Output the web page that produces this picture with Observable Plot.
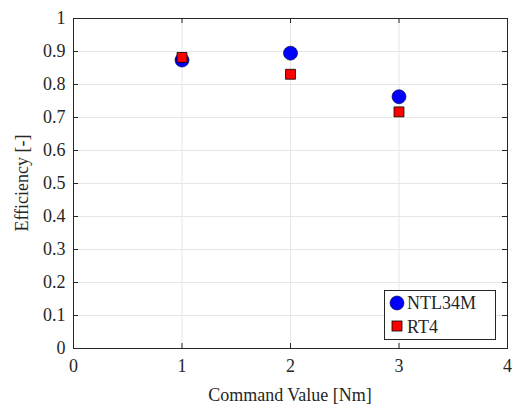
<!DOCTYPE html>
<html>
<head>
<meta charset="utf-8">
<script src="https://cdn.jsdelivr.net/npm/d3@7"></script>
<script src="https://cdn.jsdelivr.net/npm/@observablehq/plot@0.6"></script>
<style>
  html, body { margin: 0; padding: 0; background: #fff; }
  #chart { width: 519px; height: 408px; }
</style>
</head>
<body>
<div id="chart"></div>
<script>
const commandValues = [1, 2, 3];
const ntl34m = [0.874, 0.895, 0.763];
const rt4 = [0.882, 0.831, 0.717];
const seriesNames = ["NTL34M", "RT4"];
const xTicks = [0, 1, 2, 3, 4];
const yTicks = [0, 0.1, 0.2, 0.3, 0.4, 0.5, 0.6, 0.7, 0.8, 0.9, 1];

const dataN = commandValues.map((x, i) => ({x, y: ntl34m[i]}));
const dataR = commandValues.map((x, i) => ({x, y: rt4[i]}));

const font = "Liberation Serif";
const tickLenY = 5 / 330;   // inward tick length in y data units
const tickLenX = 5 / 108.5; // inward tick length in x data units

const plot = Plot.plot({
  width: 519,
  height: 408,
  marginLeft: 73,
  marginRight: 12,
  marginTop: 18,
  marginBottom: 60,
  x: {domain: [0, 4], ticks: xTicks, label: null},
  y: {domain: [0, 1], ticks: yTicks, label: null},
  marks: [
    Plot.gridX(xTicks, {stroke: "#e6e6e6", strokeOpacity: 1}),
    Plot.gridY(yTicks, {stroke: "#e6e6e6", strokeOpacity: 1}),
    Plot.axisX(xTicks, {tickSize: 0, tickPadding: 11, fontSize: 18, fontFamily: font, fill: "#262626"}),
    Plot.axisY(yTicks, {tickSize: 0, tickPadding: 8, fontSize: 18, fontFamily: font, fill: "#262626", tickFormat: d => String(+d.toFixed(1))}),
    Plot.ruleX(xTicks, {x: d => d, y1: 0, y2: tickLenY, stroke: "#262626"}),
    Plot.ruleX(xTicks, {x: d => d, y1: 1 - tickLenY, y2: 1, stroke: "#262626"}),
    Plot.ruleY(yTicks, {y: d => d, x1: 0, x2: tickLenX, stroke: "#262626"}),
    Plot.ruleY(yTicks, {y: d => d, x1: 4 - tickLenX, x2: 4, stroke: "#262626"}),
    Plot.frame({stroke: "#262626", strokeWidth: 1}),
    Plot.dot(dataN, {x: "x", y: "y", r: 7, fill: "#0000ff", stroke: "#000033", strokeWidth: 0.6, symbol: "circle"}),
    Plot.dot(dataR, {x: "x", y: "y", r: 5.6, fill: "#ff0000", stroke: "#000", strokeWidth: 0.8, symbol: "square"})
  ]
});

document.getElementById("chart").appendChild(plot);

const svg = d3.select(plot);
svg.attr("font-family", font).attr("font-size", 18).style("font-family", font, "important");

// Axis labels
svg.append("text")
  .attr("x", 290).attr("y", 401)
  .attr("text-anchor", "middle")
  .attr("font-size", 18).attr("fill", "#262626")
  .text("Command Value [Nm]");
svg.append("text")
  .attr("transform", "translate(28,183) rotate(-90)")
  .attr("text-anchor", "middle")
  .attr("font-size", 18).attr("fill", "#262626")
  .text("Efficiency [-]");

// Legend
const lg = svg.append("g").attr("text-anchor", "start");
lg.append("rect").attr("x", 384.5).attr("y", 290.5).attr("width", 111).attr("height", 49)
  .attr("fill", "#fff").attr("stroke", "#262626").attr("stroke-width", 1);
lg.append("circle").attr("cx", 397).attr("cy", 303).attr("r", 7)
  .attr("fill", "#0000ff").attr("stroke", "#000033").attr("stroke-width", 0.6);
lg.append("rect").attr("x", 392).attr("y", 321).attr("width", 10).attr("height", 10)
  .attr("fill", "#ff0000").attr("stroke", "#000").attr("stroke-width", 0.8);
lg.append("text").attr("x", 407).attr("y", 309).attr("text-anchor", "start")
  .attr("font-size", 18).attr("fill", "#262626").text(seriesNames[0]);
lg.append("text").attr("x", 407).attr("y", 333).attr("text-anchor", "start")
  .attr("font-size", 18).attr("fill", "#262626").text(seriesNames[1]);

svg.selectAll("g, text").attr("font-family", font).style("font-family", font, "important");
</script>
</body>
</html>
